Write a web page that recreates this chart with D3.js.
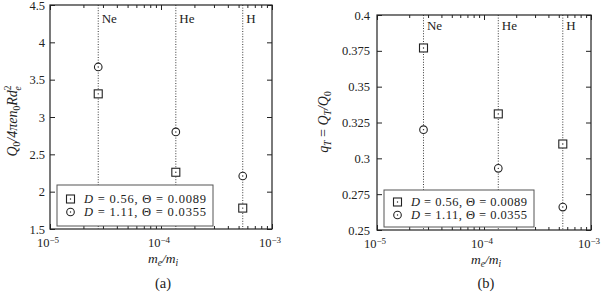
<!DOCTYPE html>
<html>
<head>
<meta charset="utf-8">
<script src="https://cdn.jsdelivr.net/npm/d3@7"></script>
<style>
body { margin: 0; background: #fff; }
svg text { font-family: "Liberation Serif", "Times New Roman", "DejaVu Serif", serif; fill: #222; }
</style>
</head>
<body>
<div id="chart"></div>
<script>
// data
var species = ["Ne", "He", "H"];
var massRatio = [2.72e-5, 1.36e-4, 5.45e-4];
var chargeD056 = [3.31, 2.26, 1.78];
var chargeD111 = [3.67, 2.80, 2.21];
var fracD056 = [0.377, 0.331, 0.310];
var fracD111 = [0.320, 0.293, 0.266];
var xTicks = [1e-5, 1e-4, 1e-3];
var xTickExp = ["-5", "-4", "-3"];
var yTicksA = [1.5, 2, 2.5, 3, 3.5, 4, 4.5];
var yTickLabelsA = ["1.5", "2", "2.5", "3", "3.5", "4", "4.5"];
var yTicksB = [0.25, 0.275, 0.3, 0.325, 0.35, 0.375, 0.4];
var yTickLabelsB = ["0.25", "0.275", "0.3", "0.325", "0.35", "0.375", "0.4"];
var seriesNames = [["0.56", "0.0089"], ["1.11", "0.0355"]];

var svg = d3.select("#chart").append("svg")
    .attr("width", 602)
    .attr("height", 293);

function panel(opt) {
    var x = d3.scaleLog().domain([1e-5, 1e-3]).range([opt.left, opt.right]);
    var y = d3.scaleLinear().domain(opt.yDomain).range([opt.bottom, opt.top]);
    var g = svg.append("g");
    var stroke = "#222";

    // minor ticks on log axis
    var minors = [];
    [1e-5, 1e-4].forEach(function (dec) {
        for (var k = 2; k <= 9; k++) minors.push(dec * k);
    });

    var xb = d3.axisBottom(x).tickValues(xTicks).tickSizeInner(-5).tickSizeOuter(0).tickFormat("");
    var xbm = d3.axisBottom(x).tickValues(minors).tickSizeInner(-3).tickSizeOuter(0).tickFormat("");
    var xt = d3.axisTop(x).tickValues(xTicks).tickSizeInner(-5).tickSizeOuter(0).tickFormat("");
    var xtm = d3.axisTop(x).tickValues(minors).tickSizeInner(-3).tickSizeOuter(0).tickFormat("");
    var yl = d3.axisLeft(y).tickValues(opt.yTicks).tickSizeInner(-5).tickSizeOuter(0)
        .tickFormat(function (d, i) { return opt.yLabels[i]; }).tickPadding(opt.yPad);
    var yr = d3.axisRight(y).tickValues(opt.yTicks).tickSizeInner(-5).tickSizeOuter(0).tickFormat("");

    [[xb, "translate(0," + opt.bottom + ")"], [xbm, "translate(0," + opt.bottom + ")"],
     [xt, "translate(0," + opt.top + ")"], [xtm, "translate(0," + opt.top + ")"],
     [yl, "translate(" + opt.left + ",0)"], [yr, "translate(" + opt.right + ",0)"]].forEach(function (a) {
        var ax = g.append("g").attr("transform", a[1]).call(a[0]);
        ax.select(".domain").remove();
        ax.selectAll("line").attr("stroke", stroke);
        ax.selectAll("text").attr("font-size", 12.5).attr("fill", "#222")
            .attr("font-family", "Liberation Serif, serif");
    });

    // frame
    g.append("rect")
        .attr("x", opt.left).attr("y", opt.top)
        .attr("width", opt.right - opt.left).attr("height", opt.bottom - opt.top)
        .attr("fill", "none").attr("stroke", stroke).attr("stroke-width", 1.2);

    // x tick labels 10^n
    g.selectAll(".xlab").data(xTicks).enter().append("text")
        .attr("x", function (d) { return x(d) - 2; })
        .attr("y", opt.bottom + 18)
        .attr("text-anchor", "middle")
        .attr("font-size", 12.5)
        .each(function (d, i) {
            var t = d3.select(this);
            t.append("tspan").text("10");
            t.append("tspan").attr("dy", -4.5).attr("font-size", 9).text("−" + xTickExp[i].slice(1));
        });

    // vertical dotted lines per species
    g.selectAll(".vline").data(massRatio).enter().append("line")
        .attr("x1", function (d) { return x(d); })
        .attr("x2", function (d) { return x(d); })
        .attr("y1", opt.top).attr("y2", opt.bottom)
        .attr("stroke", "#222").attr("stroke-width", 0.9)
        .attr("stroke-dasharray", "1,1.6");

    g.selectAll(".slab").data(species).enter().append("text")
        .attr("x", function (d, i) { return x(massRatio[i]) + 3.5; })
        .attr("y", opt.top + opt.labelDy)
        .attr("font-size", 13)
        .text(function (d) { return d; });

    // markers
    function square(sel, cx, cy) {
        sel.append("rect").attr("x", cx - 4).attr("y", cy - 4).attr("width", 8).attr("height", 8)
            .attr("fill", "#fff").attr("stroke", "#222").attr("stroke-width", 1.1);
        sel.append("circle").attr("cx", cx).attr("cy", cy).attr("r", 0.7).attr("fill", "#222");
    }
    function ring(sel, cx, cy) {
        sel.append("circle").attr("cx", cx).attr("cy", cy).attr("r", 3.8)
            .attr("fill", "#fff").attr("stroke", "#222").attr("stroke-width", 1.1);
        sel.append("circle").attr("cx", cx).attr("cy", cy).attr("r", 0.7).attr("fill", "#222");
    }
    opt.s1.forEach(function (v, i) { square(g, x(massRatio[i]), y(v)); });
    opt.s2.forEach(function (v, i) { ring(g, x(massRatio[i]), y(v)); });

    // legend
    var lg = g.append("g").attr("transform", "translate(" + opt.legX + "," + opt.legY + ")");
    lg.append("rect").attr("width", opt.legW).attr("height", opt.legH)
        .attr("fill", "#fff").attr("stroke", "#555").attr("stroke-width", 1);
    seriesNames.forEach(function (s, i) {
        var yy = opt.legRow0 + i * 13;
        if (i === 0) square(lg, 13.5, yy); else ring(lg, 13.5, yy);
        var t = lg.append("text").attr("x", 27).attr("y", yy + 4).attr("font-size", 12.5)
            .attr("textLength", opt.legW - 34).attr("lengthAdjust", "spacing");
        t.append("tspan").attr("font-style", "italic").text("D");
        t.append("tspan").text(" = " + s[0] + ",  Θ = " + s[1]);
    });

    // axis titles
    var xl = g.append("text")
        .attr("x", (opt.left + opt.right) / 2 + 2)
        .attr("y", opt.bottom + 34)
        .attr("text-anchor", "middle")
        .attr("font-size", 13.5)
        .attr("font-style", "italic");
    xl.append("tspan").text("m");
    xl.append("tspan").attr("dy", 2.5).attr("font-size", 9.5).text("e");
    xl.append("tspan").attr("dy", -2.5).text("/m");
    xl.append("tspan").attr("dy", 2.5).attr("font-size", 9.5).text("i");

    var yt = g.append("text")
        .attr("transform", "translate(" + opt.yTitleX + "," + opt.yTitleY + ") rotate(-90)")
        .attr("text-anchor", "middle")
        .attr("font-size", 14)
        .attr("font-style", "italic");
    opt.yTitle(yt);

    g.append("text")
        .attr("x", (opt.left + opt.right) / 2 + 2)
        .attr("y", 288)
        .attr("text-anchor", "middle")
        .attr("font-size", 14.5)
        .text(opt.tag);
}

panel({
    left: 50, right: 272, top: 5, bottom: 229,
    yDomain: [1.5, 4.5], yTicks: yTicksA, yLabels: yTickLabelsA, yPad: 5,
    s1: chargeD056, s2: chargeD111,
    labelDy: 18, legX: 57, legY: 185, legW: 156, legH: 41, legRow0: 14,
    yTitleX: 17, yTitleY: 121, tag: "(a)",
    yTitle: function (t) {
        t.append("tspan").text("Q");
        t.append("tspan").attr("dy", 2.5).attr("font-size", 9.5).attr("font-style", "normal").text("0");
        t.append("tspan").attr("dy", -2.5).text("/4πen");
        t.append("tspan").attr("dy", 2.5).attr("font-size", 9.5).attr("font-style", "normal").text("0");
        t.append("tspan").attr("dy", -2.5).text("Rd");
        t.append("tspan").attr("dy", -6).attr("font-size", 9.5).attr("font-style", "normal").text("2");
        t.append("tspan").attr("dx", -5).attr("dy", 9.5).attr("font-size", 9.5).text("e");
    }
});

panel({
    left: 377, right: 591, top: 15, bottom: 230,
    yDomain: [0.25, 0.4], yTicks: yTicksB, yLabels: yTickLabelsB, yPad: 7,
    s1: fracD056, s2: fracD111,
    labelDy: 15, legX: 384, legY: 190, legW: 150, legH: 37, legRow0: 12,
    yTitleX: 328, yTitleY: 122, tag: "(b)",
    yTitle: function (t) {
        t.append("tspan").text("q");
        t.append("tspan").attr("dy", 2.5).attr("font-size", 9.5).text("T");
        t.append("tspan").attr("dy", -2.5).attr("font-style", "normal").text(" = ");
        t.append("tspan").text("Q");
        t.append("tspan").attr("dy", 2.5).attr("font-size", 9.5).text("T");
        t.append("tspan").attr("dy", -2.5).text("/Q");
        t.append("tspan").attr("dy", 2.5).attr("font-size", 9.5).attr("font-style", "normal").text("0");
    }
});
</script>
</body>
</html>
